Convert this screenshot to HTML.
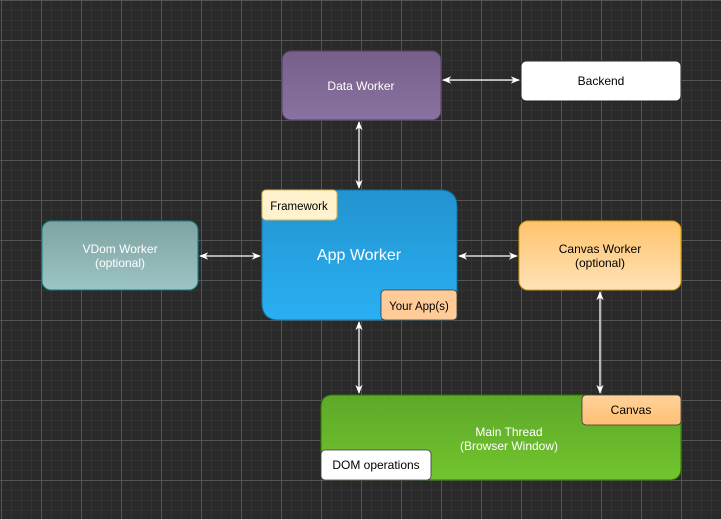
<!DOCTYPE html>
<html><head><meta charset="utf-8"><style>
html,body{margin:0;padding:0;background:#2a2a2a;}
svg{display:block;font-family:"Liberation Sans",sans-serif;}
</style></head><body>
<svg width="721" height="519" viewBox="0 0 721 519" xmlns="http://www.w3.org/2000/svg">
<defs>
<pattern id="minor" width="10" height="10" patternUnits="userSpaceOnUse" x="1" y="0">
<path d="M0 0V10M0 0H10" stroke="#3b3b3b" stroke-width="1" fill="none"/>
</pattern>
<pattern id="major" width="40" height="40" patternUnits="userSpaceOnUse" x="1" y="0">
<path d="M0.5 0V40M0 0.5H40" stroke="#555" stroke-width="1" fill="none"/>
</pattern>
<linearGradient id="gp" x1="0" y1="0" x2="0" y2="1"><stop offset="0" stop-color="#76608a"/><stop offset="1" stop-color="#8a72a0"/></linearGradient>
<linearGradient id="gb" x1="0" y1="0" x2="0" y2="1"><stop offset="0" stop-color="#2393cf"/><stop offset="1" stop-color="#29b0f3"/></linearGradient>
<linearGradient id="gt" x1="0" y1="0" x2="0" y2="1"><stop offset="0" stop-color="#7ea3a2"/><stop offset="1" stop-color="#9cc4c3"/></linearGradient>
<linearGradient id="go" x1="0" y1="0" x2="0" y2="1"><stop offset="0" stop-color="#ffc36b"/><stop offset="1" stop-color="#ffe2b8"/></linearGradient>
<linearGradient id="gg" x1="0" y1="0" x2="0" y2="1"><stop offset="0" stop-color="#5ea829"/><stop offset="1" stop-color="#72c42e"/></linearGradient>
<linearGradient id="gc" x1="0" y1="0" x2="0" y2="1"><stop offset="0" stop-color="#ffd39a"/><stop offset="1" stop-color="#ffbf73"/></linearGradient>
<marker id="a" viewBox="0 0 10 10" refX="9" refY="5" markerWidth="7" markerHeight="7" orient="auto-start-reverse"><path d="M0 1L10 5L0 9L3 5Z" fill="#fff"/></marker>
</defs>
<rect width="721" height="519" fill="#2a2a2a"/>
<rect width="721" height="519" fill="url(#minor)"/>
<rect width="721" height="519" fill="url(#major)"/>

<g stroke="#fff" stroke-width="1.3" fill="none" marker-start="url(#a)" marker-end="url(#a)">
<line x1="443" y1="80" x2="519" y2="80"/>
<line x1="359" y1="122" x2="359" y2="188"/>
<line x1="200" y1="256" x2="260" y2="256"/>
<line x1="459" y1="256" x2="517" y2="256"/>
<line x1="359" y1="322" x2="359" y2="393"/>
<line x1="600" y1="292" x2="600" y2="393"/>
</g>

<rect x="282" y="51" width="159" height="69" rx="9" fill="url(#gp)" stroke="#4f3e63" stroke-width="1"/>
<text x="361" y="90" fill="#fff" font-size="12" text-anchor="middle">Data Worker</text>

<rect x="521" y="61" width="160" height="40" rx="5" fill="#fff" stroke="#222"/>
<text x="601" y="85" fill="#000" font-size="12" text-anchor="middle">Backend</text>

<rect x="42" y="221" width="156" height="69" rx="9" fill="url(#gt)" stroke="#0e7c86" stroke-width="1"/>
<text x="120" y="253" fill="#fff" font-size="12" text-anchor="middle">VDom Worker</text>
<text x="120" y="267" fill="#fff" font-size="12" text-anchor="middle">(optional)</text>

<rect x="519" y="221" width="162" height="69" rx="9" fill="url(#go)" stroke="#d79b00" stroke-width="1"/>
<text x="600" y="253" fill="#000" font-size="12" text-anchor="middle">Canvas Worker</text>
<text x="600" y="267" fill="#000" font-size="12" text-anchor="middle">(optional)</text>

<path d="M266 190H440Q457 190 457 207V316Q457 320 453 320H279Q262 320 262 303V194Q262 190 266 190Z" fill="url(#gb)" stroke="#10739e" stroke-width="1"/>
<text x="359" y="260" fill="#fff" font-size="16" text-anchor="middle">App Worker</text>
<rect x="262" y="190" width="75" height="30" rx="4" fill="#fff2cc" stroke="#d6b656"/>
<text x="299" y="210" fill="#000" font-size="11.5" text-anchor="middle">Framework</text>
<rect x="381" y="290" width="76" height="30" rx="4" fill="#ffcc99" stroke="#36393d" stroke-width="0.8"/>
<text x="419" y="310" fill="#000" font-size="11.5" text-anchor="middle">Your App(s)</text>

<path d="M333 395H669Q681 395 681 407V468Q681 480 669 480H333Q321 480 321 468V407Q321 395 333 395Z" fill="url(#gg)" stroke="#2d7600" stroke-width="1"/>
<text x="509" y="436" fill="#fff" font-size="12" text-anchor="middle">Main Thread</text>
<text x="509" y="450" fill="#fff" font-size="12" text-anchor="middle">(Browser Window)</text>
<rect x="582" y="395" width="99" height="30" rx="4" fill="url(#gc)" stroke="#36393d" stroke-width="0.8"/>
<text x="631" y="414" fill="#000" font-size="12" text-anchor="middle">Canvas</text>
<rect x="321" y="450" width="110" height="30" rx="4" fill="#fff" stroke="#36393d" stroke-width="0.8"/>
<text x="376" y="469" fill="#000" font-size="12" text-anchor="middle">DOM operations</text>
</svg>
</body></html>
